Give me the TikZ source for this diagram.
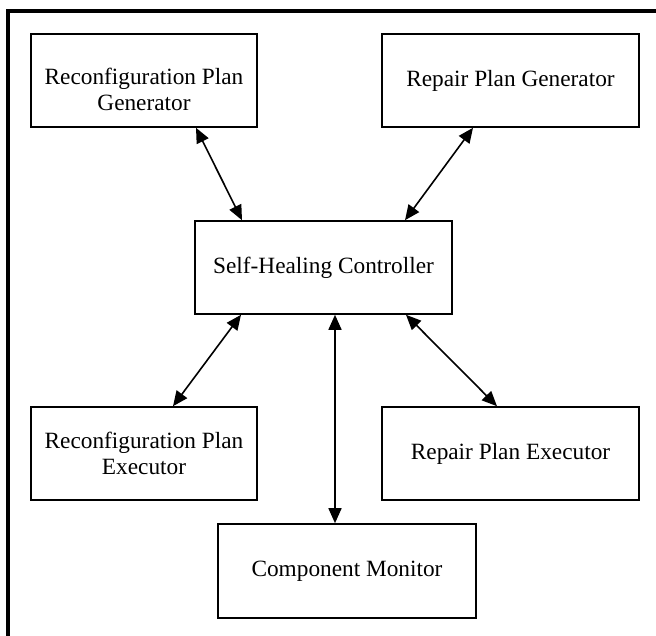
\documentclass[tikz,border=0pt]{standalone}
\usepackage{fontspec}
\setmainfont{Liberation Serif}
\usepackage{tikz}
\usetikzlibrary{arrows.meta, positioning, calc}
\tikzset{
	% block diagram styles
	blk/.style     ={rectangle, draw=black, line width=1.6pt, minimum height=93pt, align=center, fill=white, inner sep=2pt},
	blkwide/.style ={blk, minimum width=257pt},
	blknarrow/.style={blk, minimum width=226pt},
	sig/.style     ={{Triangle[length=15pt,width=13pt]}-{Triangle[length=15pt,width=13pt]}, line width=1.6pt},
}

\begin{document}
\begin{tikzpicture}[x=1pt, y=-1pt, font=\fontsize{23.3}{26}\selectfont]
					\useasboundingbox (0,0) rectangle (656,636);
					% frame
					\draw[line width=3.5pt] (8,636) |- (656,11);
					\node[blknarrow, label={[align=center, yshift=-9pt]center:Reconfiguration Plan\\ Generator}] (rcg) at (144,80.5) {};
					\node[blkwide] (rpg) at (510.5,80.5) {Repair Plan Generator};
					\node[blkwide] (shc) at (323.5,267.5) {Self-Healing Controller};
					\node[blknarrow] (rce) at (144,453.5) {Reconfiguration Plan\\ Executor};
					\node[blkwide] (rpe) at (510.5,453.5) {Repair Plan Executor};
					\node[blkwide, minimum width=258pt, minimum height=94pt] (cmo) at (347,571) {Component Monitor};
					\draw[sig] ([xshift=52pt]rcg.south) -- ([xshift=-81.5pt]shc.north);
					\draw[sig] ([xshift=-37.5pt]rpg.south) -- ([xshift=81.5pt]shc.north);
					\draw[sig] ([xshift=-82.5pt]shc.south) -- ([xshift=29pt]rce.north);
					\draw[sig] ([xshift=82.5pt]shc.south) -- ([xshift=-13.5pt]rpe.north);
					\draw[sig] ([xshift=11.5pt]shc.south) -- ([xshift=-12pt]cmo.north);
				\end{tikzpicture}
\end{document}
